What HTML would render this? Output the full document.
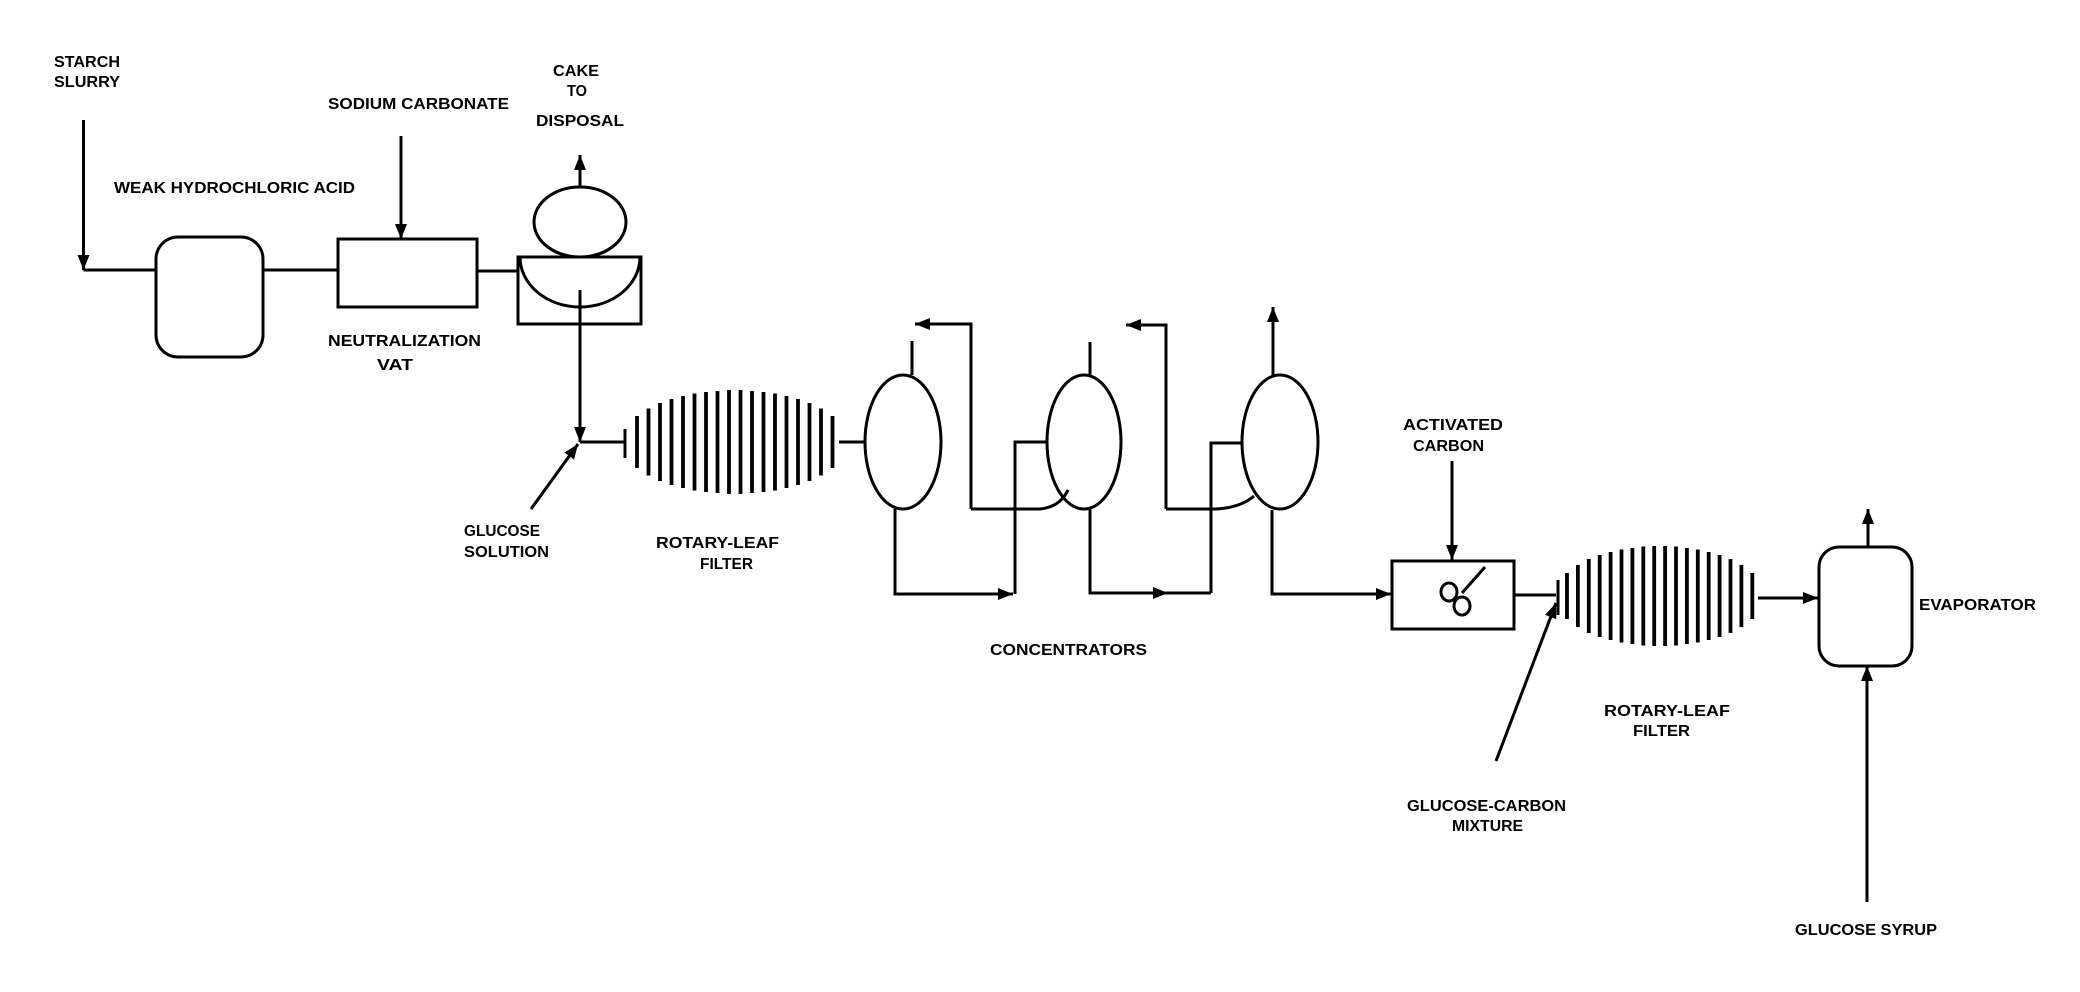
<!DOCTYPE html>
<html><head><meta charset="utf-8"><style>
html,body{margin:0;padding:0;background:#fff;}
svg{display:block;}
text{font-family:"Liberation Sans",sans-serif;font-weight:bold;font-size:16px;fill:#000;}
</style></head><body>
<svg width="2080" height="992" viewBox="0 0 2080 992" xmlns="http://www.w3.org/2000/svg">
<defs>
<marker id="a" markerUnits="userSpaceOnUse" markerWidth="16" markerHeight="14" refX="15" refY="7" orient="auto">
<path d="M0,1 L15,7 L0,13 Z" fill="#000"/>
</marker>
</defs>
<g stroke="#000" stroke-width="3" fill="none">
<path d="M83.5,120 V270" marker-end="url(#a)"/>
<path d="M83.5,270 H156"/>
<rect x="156" y="237" width="107" height="120" rx="22"/>
<path d="M263,270 H338"/>
<rect x="338" y="239" width="139" height="68"/>
<path d="M401,136 V239" marker-end="url(#a)"/>
<path d="M477,271 H518"/>
<rect x="518" y="257" width="123" height="67"/>
<path d="M520,257 A60,50 0 0 0 640,257"/>
<ellipse cx="580" cy="222" rx="46" ry="35"/>
<path d="M580,187 V155" marker-end="url(#a)"/>
<path d="M580,290 V442" marker-end="url(#a)"/>
<path d="M531,509 L578,444" marker-end="url(#a)"/>
<path d="M580,442 H625"/>
<path d="M625,429 V458"/>
<g stroke-width="3.8">
<path d="M637,416V468M648.5,408.5V475.5M660,403V481M671.5,399V485M683,396V488M694.5,393.5V490.5M706,392V492M717.5,391V493M729,390V494M740.5,390V494M752,391V493M763.5,392V492M775,393.5V490.5M786.5,396V488M798,399V485M809.5,403V481M821,408.5V475.5M832.5,416V468"/>
</g>
<path d="M839,442 H865"/>
<ellipse cx="903" cy="442" rx="38" ry="67"/>
<path d="M912,341 V375"/>
<path d="M895,509 V594 H1013" marker-end="url(#a)"/>
<path d="M1015,594 V442 H1047"/>
<path d="M971,509 V324 H915" marker-end="url(#a)"/>
<path d="M971,509 H1040 Q1060,507 1068,490"/>
<ellipse cx="1084" cy="442" rx="37" ry="67"/>
<path d="M1090,342 V375"/>
<path d="M1090,509 V593 H1211"/>
<path d="M1130,593 H1168" marker-end="url(#a)"/>
<path d="M1211,593 V443 H1242"/>
<path d="M1166,509 V325 H1126" marker-end="url(#a)"/>
<path d="M1166,509 H1215 Q1240,508 1254,496"/>
<ellipse cx="1280" cy="442" rx="38" ry="67"/>
<path d="M1273,375 V307" marker-end="url(#a)"/>
<path d="M1272,510 V594 H1391" marker-end="url(#a)"/>
<rect x="1392" y="561" width="122" height="68"/>
<path d="M1452,461 V560" marker-end="url(#a)"/>
<ellipse cx="1449" cy="592" rx="8" ry="9"/>
<ellipse cx="1462" cy="606" rx="8" ry="9"/>
<path d="M1462,593 L1485,567"/>
<path d="M1514,595 H1556"/>
<path d="M1496,761 L1556,603" marker-end="url(#a)"/>
<path d="M1558,580 V615"/>
<g stroke-width="3.8">
<path d="M1567,573V619M1577.9,565V627M1588.8,559V633M1599.7,555V637M1610.6,552V640M1621.5,549.5V642.5M1632.4,548V644M1643.3,546.5V645.5M1654.2,546V646M1665.1,546V646M1676,546.5V645.5M1686.9,548V644M1697.8,549.5V642.5M1708.7,552V640M1719.6,555V637M1730.5,559V633M1741.4,565V627M1752.3,573V619"/>
</g>
<path d="M1758,598 H1818" marker-end="url(#a)"/>
<rect x="1819" y="547" width="93" height="119" rx="20"/>
<path d="M1868,547 V509" marker-end="url(#a)"/>
<path d="M1867,902 V666" marker-end="url(#a)"/>
</g>
<g>
<text x="54" y="67" textLength="66" lengthAdjust="spacingAndGlyphs">STARCH</text>
<text x="54" y="87" textLength="66" lengthAdjust="spacingAndGlyphs">SLURRY</text>
<text x="328" y="109" textLength="181" lengthAdjust="spacingAndGlyphs">SODIUM CARBONATE</text>
<text x="114" y="193" textLength="241" lengthAdjust="spacingAndGlyphs">WEAK HYDROCHLORIC ACID</text>
<text x="328" y="346" textLength="153" lengthAdjust="spacingAndGlyphs">NEUTRALIZATION</text>
<text x="377" y="370" textLength="36" lengthAdjust="spacingAndGlyphs">VAT</text>
<text x="553" y="76" textLength="46" lengthAdjust="spacingAndGlyphs">CAKE</text>
<text x="567" y="96" textLength="20" lengthAdjust="spacingAndGlyphs">TO</text>
<text x="536" y="126" textLength="88" lengthAdjust="spacingAndGlyphs">DISPOSAL</text>
<text x="464" y="536" textLength="76" lengthAdjust="spacingAndGlyphs">GLUCOSE</text>
<text x="464" y="557" textLength="85" lengthAdjust="spacingAndGlyphs">SOLUTION</text>
<text x="656" y="548" textLength="123" lengthAdjust="spacingAndGlyphs">ROTARY-LEAF</text>
<text x="700" y="569" textLength="53" lengthAdjust="spacingAndGlyphs">FILTER</text>
<text x="990" y="655" textLength="157" lengthAdjust="spacingAndGlyphs">CONCENTRATORS</text>
<text x="1403" y="430" textLength="100" lengthAdjust="spacingAndGlyphs">ACTIVATED</text>
<text x="1413" y="451" textLength="71" lengthAdjust="spacingAndGlyphs">CARBON</text>
<text x="1919" y="610" textLength="117" lengthAdjust="spacingAndGlyphs">EVAPORATOR</text>
<text x="1604" y="716" textLength="126" lengthAdjust="spacingAndGlyphs">ROTARY-LEAF</text>
<text x="1633" y="736" textLength="57" lengthAdjust="spacingAndGlyphs">FILTER</text>
<text x="1407" y="811" textLength="159" lengthAdjust="spacingAndGlyphs">GLUCOSE-CARBON</text>
<text x="1452" y="831" textLength="71" lengthAdjust="spacingAndGlyphs">MIXTURE</text>
<text x="1795" y="935" textLength="142" lengthAdjust="spacingAndGlyphs">GLUCOSE SYRUP</text>
</g>
</svg>
</body></html>
